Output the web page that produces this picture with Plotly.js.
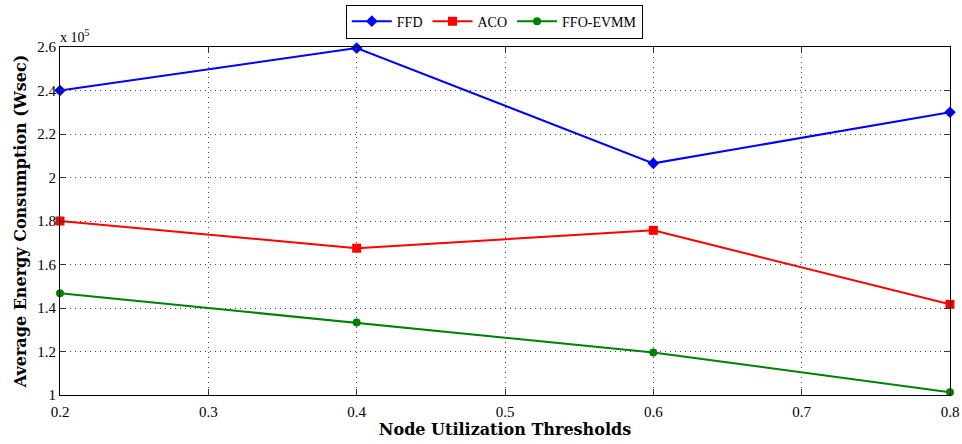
<!DOCTYPE html>
<html>
<head>
<meta charset="utf-8">
<script src="https://cdn.plot.ly/plotly-3.0.1.min.js"></script>
<style>
  html, body { margin: 0; padding: 0; background: #fff; }
  #chart { width: 962px; height: 444px; }
</style>
</head>
<body>
<div id="chart"></div>
<script>
// Node utilization thresholds (x axis)
const thresholds = [0.2, 0.4, 0.6, 0.8];
// Average energy consumption, in units of 10^5 Wsec
const ffd = [2.40, 2.595, 2.065, 2.30];
const aco = [1.80, 1.675, 1.757, 1.417];
const ffoEvmm = [1.468, 1.333, 1.195, 1.013];

const xTicks = [0.2, 0.3, 0.4, 0.5, 0.6, 0.7, 0.8];
const xTickText = ['0.2', '0.3', '0.4', '0.5', '0.6', '0.7', '0.8'];
const yTicks = [1, 1.2, 1.4, 1.6, 1.8, 2, 2.2, 2.4, 2.6];
const yTickText = ['1', '1.2', '1.4', '1.6', '1.8', '2', '2.2', '2.4', '2.6'];

const serif = '"Liberation Serif", "DejaVu Serif", serif';
const boldSerif = '"DejaVu Serif", "Liberation Serif", serif';

function series(name, y, color, symbol, size) {
  return {
    x: thresholds, y: y, name: name, type: 'scatter', mode: 'lines+markers',
    line: { color: color, width: 2 },
    marker: { color: color, symbol: symbol, size: size },
    cliponaxis: false
  };
}

const data = [
  series('FFD', ffd, '#0000ff', 'diamond', 9),
  series('ACO', aco, '#ff0000', 'square', 9),
  series('FFO-EVMM', ffoEvmm, '#008000', 'circle', 8)
];

const axisCommon = {
  showline: true, linecolor: '#000', linewidth: 1, mirror: 'ticks',
  ticks: 'inside', ticklen: 6, tickcolor: '#333',
  showgrid: true, gridcolor: '#444', griddash: '1px,4px', gridwidth: 1,
  zeroline: false,
  tickfont: { family: serif, size: 15, color: '#000' }
};

const layout = {
  width: 962, height: 444,
  margin: { l: 60, r: 12, t: 47, b: 49, autoexpand: false },
  paper_bgcolor: '#fff', plot_bgcolor: '#fff',
  showlegend: true,
  legend: {
    orientation: 'h', x: 0.488, xanchor: 'center', y: 1.122, yanchor: 'top',
    bordercolor: '#000', borderwidth: 1, bgcolor: '#fff',
    font: { family: serif, size: 14, color: '#000' },
    itemwidth: 40, tracegroupgap: 0
  },
  xaxis: Object.assign({}, axisCommon, {
    range: [0.2, 0.8], tickvals: xTicks, ticktext: xTickText,
    ticklabelstandoff: 3,
    title: { text: '<b>Node Utilization Thresholds</b>', standoff: 0,
             font: { family: boldSerif, size: 16, color: '#000' } }
  }),
  yaxis: Object.assign({}, axisCommon, {
    range: [1, 2.6], tickvals: yTicks, ticktext: yTickText,
    title: { text: '<b>Average Energy Consumption (Wsec)</b>', standoff: 6,
             font: { family: boldSerif, size: 16, color: '#000' } }
  }),
  annotations: [{
    xref: 'paper', yref: 'paper', x: 0, y: 1, xanchor: 'left', yanchor: 'bottom',
    xshift: -2, yshift: 0,
    text: 'x 10<sup>5</sup>', showarrow: false,
    font: { family: serif, size: 14, color: '#000' }
  }]
};

Plotly.newPlot('chart', data, layout, { displayModeBar: false, staticPlot: true });
</script>
</body>
</html>
